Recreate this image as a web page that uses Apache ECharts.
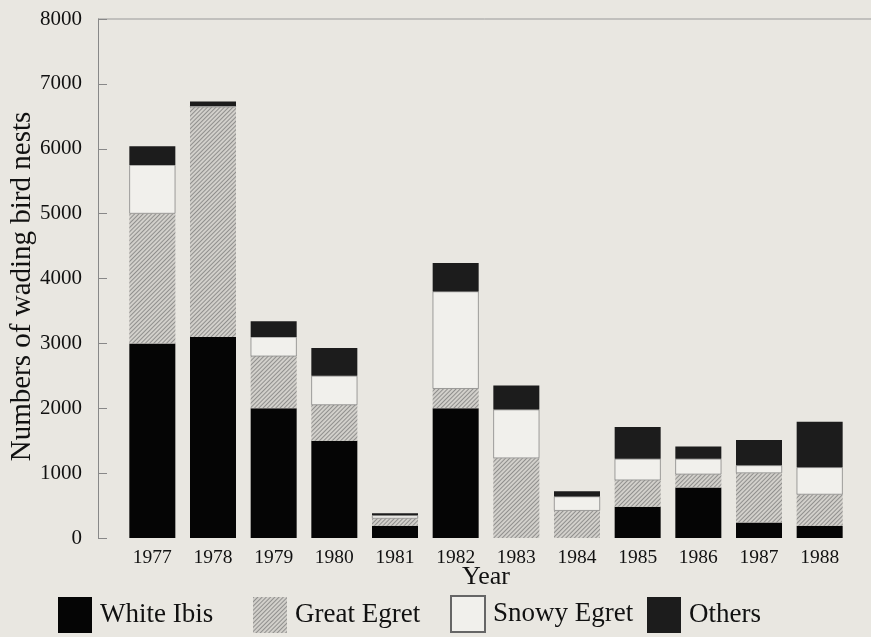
<!DOCTYPE html>
<html><head><meta charset="utf-8">
<script src="https://cdn.jsdelivr.net/npm/echarts@6/dist/echarts.min.js"></script>
<style>html,body{margin:0;padding:0;background:#e9e7e1;}#c{width:871px;height:637px;}</style>
</head><body><div id="c"></div>
<script>
const years = ['1977','1978','1979','1980','1981','1982','1983','1984','1985','1986','1987','1988'];
const whiteIbis   = [3000, 3100, 2000, 1500, 190, 2000,    0,   0, 480, 780, 240, 190];
const greatEgret  = [2000, 3540,  800,  550, 110,  300, 1230, 420, 410, 200, 760, 480];
const snowyEgret  = [ 750,   20,  300,  450,  50, 1500,  750, 220, 330, 240, 120, 420];
const others      = [ 290,   70,  240,  430,  30,  440,  370,  80, 490, 190, 390, 700];
const yTicks = [0, 1000, 2000, 3000, 4000, 5000, 6000, 7000, 8000];

const serif = 'Liberation Serif';
const chart = echarts.init(document.getElementById('c'));
const hatch = {symbol:'rect', symbolSize:1, dashArrayX:[1,0], dashArrayY:[1,2], rotation:-Math.PI/4, color:'rgba(100,100,100,0.6)'};
function ser(name, data, style){
  return {name, type:'bar', stack:'s', data, barWidth:46, itemStyle:style, emphasis:{disabled:true}, animation:false};
}
const legendBase = {bottom:4, padding:0, itemWidth:34, itemHeight:36, itemGap:0, icon:'rect',
  textStyle:{fontFamily:serif, fontSize:27, color:'#111', padding:[4,0,0,3]}};
chart.setOption({
  backgroundColor:'#e9e7e1',
  animation:false,
  grid:{left:122, right:21, top:19, bottom:99, outerBoundsMode:'none', containLabel:false},
  legend:[
    Object.assign({left:58, data:['White Ibis']}, legendBase),
    Object.assign({left:253, data:['Great Egret']}, legendBase),
    Object.assign({left:450, data:['Snowy Egret']}, legendBase),
    Object.assign({left:647, data:['Others']}, legendBase)
  ],
  xAxis:{type:'category', data:years, name:'Year', nameLocation:'middle', nameGap:26, nameMoveOverlap:false,
    nameTextStyle:{fontFamily:serif, fontSize:26, color:'#111'},
    axisLine:{show:false}, axisTick:{show:false},
    axisLabel:{fontFamily:serif, fontSize:19.5, color:'#111', margin:10}},
  yAxis:{type:'value', min:yTicks[0], max:yTicks[yTicks.length-1], interval:1000, offset:24,
    name:'Numbers of wading bird nests', nameLocation:'middle', nameGap:61, nameMoveOverlap:false,
    nameTextStyle:{fontFamily:serif, fontSize:29, color:'#111', padding:[0,16,0,0]},
    axisLine:{show:true, lineStyle:{color:'#888', width:1}},
    axisTick:{show:true, inside:true, length:9, lineStyle:{color:'#888'}},
    axisLabel:{fontFamily:serif, fontSize:21, color:'#111', margin:16, formatter:v=>String(v)},
    splitLine:{show:false}},
  graphic:[{type:'line', shape:{x1:98, y1:19, x2:871, y2:19}, style:{stroke:'#999', lineWidth:1}}],
  series:[
    ser('White Ibis', whiteIbis, {color:'#050505'}),
    ser('Great Egret', greatEgret, {color:'#d2d0cb', decal:hatch}),
    ser('Snowy Egret', snowyEgret, {color:'#f1f0ec', borderColor:'#666', borderWidth:0.6}),
    ser('Others', others, {color:'#1c1c1c'})
  ]
});
</script></body></html>
